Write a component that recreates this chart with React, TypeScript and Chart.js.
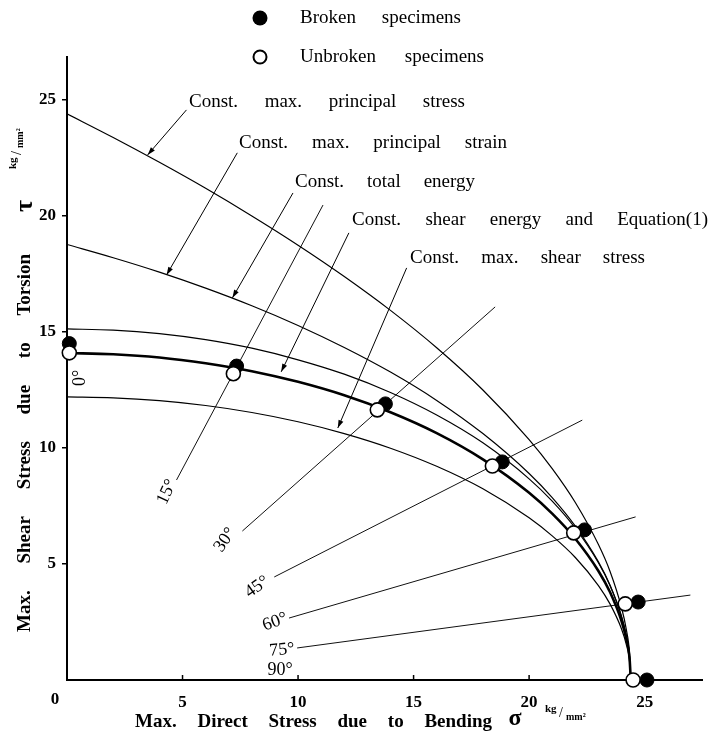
import React, { useEffect, useRef } from 'react';
import { Chart, registerables } from 'chart.js';

Chart.register(...registerables);

// ---------- data ----------
const xTicks = [0, 5, 10, 15, 20, 25];
const yTicks = [5, 10, 15, 20, 25];

// sigma positions at which the curves were read
const curveSigma = [0, 2, 4, 6, 8, 10, 12, 14, 16, 18, 20, 21, 22, 23, 23.5, 24, 24.2, 24.35, 24.4];
const tauPrincipalStress = [24.4, 23.38, 22.31, 21.19, 20.0, 18.74, 17.39, 15.93, 14.32, 12.5, 10.36, 9.11, 7.65, 5.84, 4.69, 3.12, 2.21, 1.1, 0];
const tauPrincipalStrain = [18.77, 18.2, 17.58, 16.89, 16.13, 15.28, 14.33, 13.27, 12.05, 10.62, 8.9, 7.86, 6.63, 5.09, 4.09, 2.74, 1.93, 0.97, 0];
const tauTotalEnergy = [15.13, 15.08, 14.93, 14.67, 14.3, 13.8, 13.18, 12.39, 11.42, 10.22, 8.67, 7.71, 6.54, 5.05, 4.07, 2.73, 1.93, 0.97, 0];
const tauShearEnergy = [14.09, 14.04, 13.9, 13.65, 13.31, 12.85, 12.27, 11.54, 10.64, 9.51, 8.07, 7.17, 6.09, 4.7, 3.79, 2.54, 1.8, 0.9, 0];
const tauMaxShear = [12.2, 12.16, 12.04, 11.83, 11.53, 11.13, 10.62, 9.99, 9.21, 8.24, 6.99, 6.21, 5.28, 4.07, 3.28, 2.2, 1.56, 0.78, 0];

// specimens (0°,15°,30°,45°,60°,75°,90°)
const brokenSigma = [0.1, 7.34, 13.78, 18.84, 22.4, 24.72, 25.1];
const brokenTau = [14.5, 13.53, 11.9, 9.4, 6.47, 3.36, 0];
const unbrokenSigma = [0.1, 7.2, 13.43, 18.41, 21.93, 24.16, 24.5];
const unbrokenTau = [14.1, 13.2, 11.64, 9.22, 6.34, 3.28, 0];

// loading-direction rays (15°..75°)
const rayAngles = ['15°', '30°', '45°', '60°', '75°'];
const rayStartSigma = [4.74, 7.59, 8.97, 9.61, 9.96];
const rayStartTau = [8.62, 6.42, 4.44, 2.67, 1.38];
const rayEndSigma = [11.08, 18.53, 22.3, 24.61, 26.98];
const rayEndTau = [20.47, 16.08, 11.2, 7.03, 3.66];

// curve labels and their leader lines
const curveLabels = [
  'Const. max. principal stress',
  'Const. max. principal strain',
  'Const. total energy',
  'Const. shear energy and Equation(1)',
  'Const. max. shear stress',
];
const leaderFromSigma = [5.17, 7.37, 9.78, 12.2, 14.7];
const leaderFromTau = [24.57, 22.72, 20.99, 19.27, 17.76];
const leaderToSigma = [3.49, 4.31, 7.16, 9.27, 11.72];
const leaderToTau = [22.63, 17.46, 16.47, 13.28, 10.86];

const angleLabels = ['0°', '15°', '30°', '45°', '60°', '75°', '90°'];

// ---------- layout / style (not data) ----------
const SERIF = "'Liberation Serif', 'DejaVu Serif', serif";
const labelBoxes = [
  { x0: 189, x1: 465, y: 102 },
  { x0: 239, x1: 507, y: 143 },
  { x0: 295, x1: 475, y: 182 },
  { x0: 352, x1: 708, y: 220 },
  { x0: 410, x1: 645, y: 258 },
];
const angleLabelPos = [
  { x: 80, y: 378, r: -90 },
  { x: 167, y: 492, r: -65 },
  { x: 225, y: 540, r: -55 },
  { x: 257, y: 587, r: -35 },
  { x: 275, y: 622, r: -20 },
  { x: 282, y: 650, r: -5 },
  { x: 280, y: 670, r: 0 },
];

function drawSpread(ctx: CanvasRenderingContext2D, text: string, x0: number, x1: number, y: number) {
  const words = text.split(' ');
  const widths = words.map((w) => ctx.measureText(w).width);
  const total = widths.reduce((a, b) => a + b, 0);
  const gap = words.length > 1 ? (x1 - x0 - total) / (words.length - 1) : 0;
  let x = x0;
  ctx.textAlign = 'left';
  ctx.textBaseline = 'middle';
  words.forEach((w, i) => {
    ctx.fillText(w, x, y);
    x += widths[i] + gap;
  });
}

const annotPlugin = {
  id: 'annot',
  afterDatasetsDraw(chart: any) {
    const ctx: CanvasRenderingContext2D = chart.ctx;
    const xs = chart.scales.x;
    const ys = chart.scales.y;
    const px = (v: number) => xs.getPixelForValue(v);
    const py = (v: number) => ys.getPixelForValue(v);
    ctx.save();
    ctx.fillStyle = '#000';
    ctx.strokeStyle = '#000';

    // inside tick marks on the x axis
    ctx.lineWidth = 1.5;
    xTicks.forEach((v) => {
      if (v === 0) return;
      const x = px(v);
      ctx.beginPath();
      ctx.moveTo(x, py(0));
      ctx.lineTo(x, py(0) - 5);
      ctx.stroke();
    });
    // x "0" at the corner
    ctx.font = `bold 17px ${SERIF}`;
    ctx.textAlign = 'center';
    ctx.textBaseline = 'middle';
    ctx.fillText('0', px(0) - 12, 700);

    // leader lines with arrowheads
    ctx.lineWidth = 1;
    for (let i = 0; i < leaderFromSigma.length; i++) {
      const x1 = px(leaderFromSigma[i]);
      const y1 = py(leaderFromTau[i]);
      const x2 = px(leaderToSigma[i]);
      const y2 = py(leaderToTau[i]);
      ctx.beginPath();
      ctx.moveTo(x1, y1);
      ctx.lineTo(x2, y2);
      ctx.stroke();
      const a = Math.atan2(y2 - y1, x2 - x1);
      const L = 8, W = 2.6;
      ctx.beginPath();
      ctx.moveTo(x2, y2);
      ctx.lineTo(x2 - L * Math.cos(a) + W * Math.sin(a), y2 - L * Math.sin(a) - W * Math.cos(a));
      ctx.lineTo(x2 - L * Math.cos(a) - W * Math.sin(a), y2 - L * Math.sin(a) + W * Math.cos(a));
      ctx.closePath();
      ctx.fill();
    }

    // curve labels
    ctx.font = `19px ${SERIF}`;
    curveLabels.forEach((t, i) => {
      const b = labelBoxes[i];
      drawSpread(ctx, t, b.x0, b.x1, b.y);
    });

    // angle labels
    ctx.font = `18px ${SERIF}`;
    angleLabels.forEach((t, i) => {
      const p = angleLabelPos[i];
      ctx.save();
      ctx.translate(p.x, p.y);
      ctx.rotate((p.r * Math.PI) / 180);
      ctx.textAlign = 'center';
      ctx.textBaseline = 'middle';
      ctx.fillText(t, 0, 0);
      ctx.restore();
    });

    // legend
    ctx.beginPath();
    ctx.arc(260, 18, 7.5, 0, Math.PI * 2);
    ctx.fill();
    ctx.beginPath();
    ctx.arc(260, 57, 6.5, 0, Math.PI * 2);
    ctx.fillStyle = '#fff';
    ctx.fill();
    ctx.lineWidth = 2;
    ctx.stroke();
    ctx.fillStyle = '#000';
    ctx.font = `19px ${SERIF}`;
    drawSpread(ctx, 'Broken specimens', 300, 461, 18);
    drawSpread(ctx, 'Unbroken specimens', 300, 484, 57);

    // x axis title
    ctx.font = `bold 19px ${SERIF}`;
    drawSpread(ctx, 'Max. Direct Stress due to Bending', 135, 492, 722);
    ctx.font = `bold 24px ${SERIF}`;
    ctx.textAlign = 'center';
    ctx.fillText('σ', 515, 719);
    ctx.font = `bold 11px ${SERIF}`;
    ctx.textAlign = 'left';
    ctx.fillText('kg', 545, 709);
    ctx.font = `14px ${SERIF}`;
    ctx.fillText('/', 559, 713);
    ctx.font = `bold 10px ${SERIF}`;
    ctx.fillText('mm²', 566, 717);

    // y axis title (rotated)
    ctx.save();
    ctx.translate(25, 632);
    ctx.rotate(-Math.PI / 2);
    ctx.font = `bold 19px ${SERIF}`;
    drawSpread(ctx, 'Max. Shear Stress due to Torsion', 0, 378, 0);
    ctx.font = `bold 26px ${SERIF}`;
    ctx.textAlign = 'center';
    ctx.fillText('τ', 426, 0);
    ctx.textAlign = 'left';
    ctx.font = `bold 11px ${SERIF}`;
    ctx.fillText('kg', 463, -12);
    ctx.font = `14px ${SERIF}`;
    ctx.fillText('/', 477, -8);
    ctx.font = `bold 10px ${SERIF}`;
    ctx.fillText('mm²', 484, -5);
    ctx.restore();

    ctx.restore();
  },
};

function curve(label: string, taus: number[], width: number) {
  return {
    label,
    data: curveSigma.map((s, i) => ({ x: s, y: taus[i] })),
    showLine: true,
    pointRadius: 0,
    borderColor: '#000',
    borderWidth: width,
    cubicInterpolationMode: 'monotone' as const,
    fill: false,
    order: 5,
  };
}

export default function App() {
  const ref = useRef<HTMLCanvasElement | null>(null);
  useEffect(() => {
    if (!ref.current) return;
    const rays = rayAngles.map((a, i) => ({
      label: a,
      data: [
        { x: rayStartSigma[i], y: rayStartTau[i] },
        { x: rayEndSigma[i], y: rayEndTau[i] },
      ],
      showLine: true,
      pointRadius: 0,
      borderColor: '#111',
      borderWidth: 1,
      tension: 0,
      order: 6,
    }));
    const chart = new Chart(ref.current, {
      type: 'scatter',
      data: {
        datasets: [
          {
            label: 'Unbroken specimens',
            data: unbrokenSigma.map((s, i) => ({ x: s, y: unbrokenTau[i] })),
            pointRadius: 7,
            pointBackgroundColor: '#fff',
            pointBorderColor: '#000',
            pointBorderWidth: 1.6,
            showLine: false,
            order: 0,
            clip: false,
          } as any,
          {
            label: 'Broken specimens',
            data: brokenSigma.map((s, i) => ({ x: s, y: brokenTau[i] })),
            pointRadius: 7,
            pointBackgroundColor: '#000',
            pointBorderColor: '#000',
            pointBorderWidth: 1,
            showLine: false,
            order: 1,
            clip: false,
          } as any,
          curve('Const. max. principal stress', tauPrincipalStress, 1.2),
          curve('Const. max. principal strain', tauPrincipalStrain, 1.2),
          curve('Const. total energy', tauTotalEnergy, 1.2),
          curve('Const. shear energy and Equation(1)', tauShearEnergy, 2.6),
          curve('Const. max. shear stress', tauMaxShear, 1.2),
          ...rays,
        ],
      },
      options: {
        animation: false,
        responsive: false,
        layout: { padding: { top: 57, right: 6, left: 0, bottom: 0 } },
        plugins: { legend: { display: false }, tooltip: { enabled: false } },
        scales: {
          x: {
            type: 'linear',
            min: 0,
            max: 27.5,
            afterBuildTicks: (s: any) => {
              s.ticks = xTicks.map((v) => ({ value: v }));
            },
            afterFit: (s: any) => {
              s.height = 60;
            },
            grid: { display: true, drawOnChartArea: false, drawTicks: false },
            border: { display: true, color: '#000', width: 2 },
            ticks: {
              padding: 12,
              color: '#000',
              maxRotation: 0,
              autoSkip: false,
              font: { family: SERIF, size: 17, weight: 'bold' },
              callback: (v: any) => (v === 0 ? '' : String(v)),
            },
          },
          y: {
            type: 'linear',
            min: 0,
            max: 26.85,
            afterBuildTicks: (s: any) => {
              s.ticks = yTicks.map((v) => ({ value: v }));
            },
            afterFit: (s: any) => {
              s.width = 67;
            },
            grid: { display: true, drawOnChartArea: false, drawTicks: true, tickLength: 5, color: '#000', lineWidth: 1.5 },
            border: { display: true, color: '#000', width: 2 },
            ticks: {
              padding: 6,
              color: '#000',
              autoSkip: false,
              font: { family: SERIF, size: 17, weight: 'bold' },
              callback: (v: any) => String(v),
            },
          },
        },
      } as any,
      plugins: [annotPlugin],
    });
    return () => chart.destroy();
  }, []);
  return (
    <div style={{ position: 'absolute', left: 0, top: 0, width: 711, height: 740, background: '#fff' }}>
      <canvas ref={ref} width={711} height={740} style={{ width: 711, height: 740, display: 'block' }} />
    </div>
  );
}
